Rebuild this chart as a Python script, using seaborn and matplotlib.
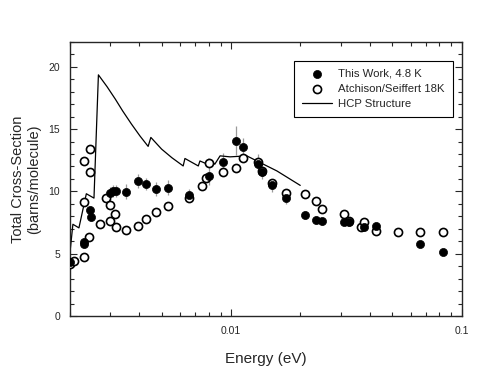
import numpy as np
import pandas as pd
import matplotlib
matplotlib.use("Agg")
import matplotlib.pyplot as plt
import seaborn as sns
from matplotlib.ticker import MultipleLocator, FixedLocator, NullFormatter

# This Work, 4.8 K (energy eV, cross-section, error)
work_e = [0.00201, 0.002295, 0.00231, 0.002438, 0.002462, 0.002978, 0.00308, 0.003162,
          0.003495, 0.003941, 0.004257, 0.00471, 0.005349, 0.006602, 0.008062, 0.00923,
          0.01048, 0.01128, 0.0131, 0.01368, 0.01503, 0.01735, 0.02098, 0.02342,
          0.02487, 0.03078, 0.03236, 0.0376, 0.0427, 0.06588, 0.08313]
work_s = [4.3, 5.77, 5.93, 8.51, 7.93, 9.88, 10.02, 10.04,
          9.98, 10.81, 10.58, 10.2, 10.28, 9.72, 11.23, 12.36,
          14.07, 13.57, 12.18, 11.59, 10.48, 9.49, 8.10, 7.70,
          7.60, 7.58, 7.54, 7.12, 7.20, 5.81, 5.10]
work_err = [0.2, 0.3, 0.3, 0.3, 0.3, 0.5, 0.5, 0.5,
            0.6, 0.55, 0.5, 0.55, 0.6, 0.5, 0.75, 0.7,
            1.15, 0.7, 0.8, 0.6, 0.5, 0.5, 0.35, 0.3,
            0.3, 0.3, 0.3, 0.3, 0.3, 0.2, 0.2]

# Atchison/Seiffert 18K
atch_e = [0.001995, 0.00209, 0.002295, 0.00231, 0.00231, 0.002421, 0.00245, 0.00245,
          0.002695, 0.00288, 0.003, 0.003146, 0.003, 0.003184, 0.003495, 0.003941,
          0.004257, 0.00471, 0.005349, 0.006602, 0.007445, 0.00777, 0.008062, 0.00923,
          0.01048, 0.01128, 0.0131, 0.01368, 0.01503, 0.01735, 0.02098, 0.02342,
          0.02487, 0.03078, 0.03236, 0.0365, 0.0376, 0.0427, 0.0527, 0.06588, 0.08313]
atch_s = [4.17, 4.44, 4.70, 9.13, 12.46, 6.37, 13.39, 11.59,
          7.40, 9.44, 8.90, 8.20, 7.65, 7.18, 6.90, 7.23,
          7.78, 8.35, 8.85, 9.44, 10.40, 11.05, 12.31, 11.56,
          11.90, 12.64, 12.36, 11.61, 10.70, 9.90, 9.82, 9.25,
          8.55, 8.15, 7.60, 7.12, 7.58, 6.83, 6.71, 6.73, 6.71]

# HCP Structure calculation
hcp_e = [0.00199, 0.002062, 0.00219, 0.002358, 0.002545, 0.00266, 0.0029, 0.00315,
         0.00339, 0.0037, 0.00403, 0.00437, 0.00449, 0.005, 0.00554, 0.0062,
         0.00631, 0.00721, 0.00733, 0.0079, 0.00802, 0.0085, 0.00896, 0.0099,
         0.0117, 0.01337, 0.0158, 0.01995]
hcp_s = [4.6, 7.36, 7.07, 9.81, 9.46, 19.35, 18.4, 17.4,
         16.45, 15.4, 14.44, 13.61, 14.33, 13.39, 12.7, 12.04,
         12.64, 12.04, 12.44, 12.18, 12.58, 12.18, 12.85, 12.77,
         12.85, 12.31, 11.64, 10.48]

work = pd.DataFrame({"E": work_e, "S": work_s, "err": work_err})
atch = pd.DataFrame({"E": atch_e, "S": atch_s})
hcp = pd.DataFrame({"E": hcp_e, "S": hcp_s})

sns.set_style("ticks")
plt.rcParams['font.family'] = ['Liberation Sans', 'DejaVu Sans']

fig = plt.figure(figsize=(4.85, 3.67), dpi=100)
ax = fig.add_axes([0.144, 0.139, 0.808, 0.747])

ax.errorbar(work["E"], work["S"], yerr=work["err"], fmt="none",
            ecolor="#9a9a9a", elinewidth=0.9, zorder=1)
sns.lineplot(data=hcp, x="E", y="S", ax=ax, color="black", lw=0.9,
             sort=False, estimator=None, label="HCP Structure", zorder=2)
sns.scatterplot(data=atch, x="E", y="S", ax=ax, marker="o", s=34,
                facecolor="white", edgecolor="black", linewidth=1.2,
                label="Atchison/Seiffert 18K", zorder=3)
sns.scatterplot(data=work, x="E", y="S", ax=ax, marker="o", s=34,
                color="black", edgecolor="black", linewidth=0.5,
                label="This Work, 4.8 K", zorder=4)

ax.set_xscale("log")
ax.set_xlim(0.002, 0.1)
ax.set_ylim(0, 22)
ax.xaxis.set_major_locator(FixedLocator([0.01, 0.1]))
ax.set_xticklabels(["0.01", "0.1"])
ax.xaxis.set_minor_locator(FixedLocator([0.002, 0.003, 0.004, 0.005, 0.006, 0.007, 0.008, 0.009,
                                         0.02, 0.03, 0.04, 0.05, 0.06, 0.07, 0.08, 0.09]))
ax.xaxis.set_minor_formatter(NullFormatter())
ax.yaxis.set_major_locator(MultipleLocator(5))
ax.yaxis.set_minor_locator(MultipleLocator(1))
ax.tick_params(which="both", direction="in", top=True, right=True, labelsize=7.5, width=0.8)
ax.tick_params(which="major", length=5, pad=7)
ax.tick_params(which="minor", length=3)
for sp in ax.spines.values():
    sp.set_linewidth(1.0)

ax.set_xlabel("Energy (eV)", fontsize=11, labelpad=12)
ax.set_ylabel("Total Cross-Section\n(barns/molecule)", fontsize=10.5, labelpad=5)

handles, labels = ax.get_legend_handles_labels()
order = [labels.index("This Work, 4.8 K"), labels.index("Atchison/Seiffert 18K"),
         labels.index("HCP Structure")]
leg = ax.legend([handles[i] for i in order], [labels[i] for i in order],
                loc="upper left", bbox_to_anchor=(0.572, 0.931), borderaxespad=0,
                fontsize=8.2, frameon=True, fancybox=False, edgecolor="black",
                framealpha=1, borderpad=0.7, handlelength=2.6, handletextpad=0.6,
                labelspacing=0.45)
leg.get_frame().set_linewidth(0.8)

fig.savefig("out.png", dpi=100)
